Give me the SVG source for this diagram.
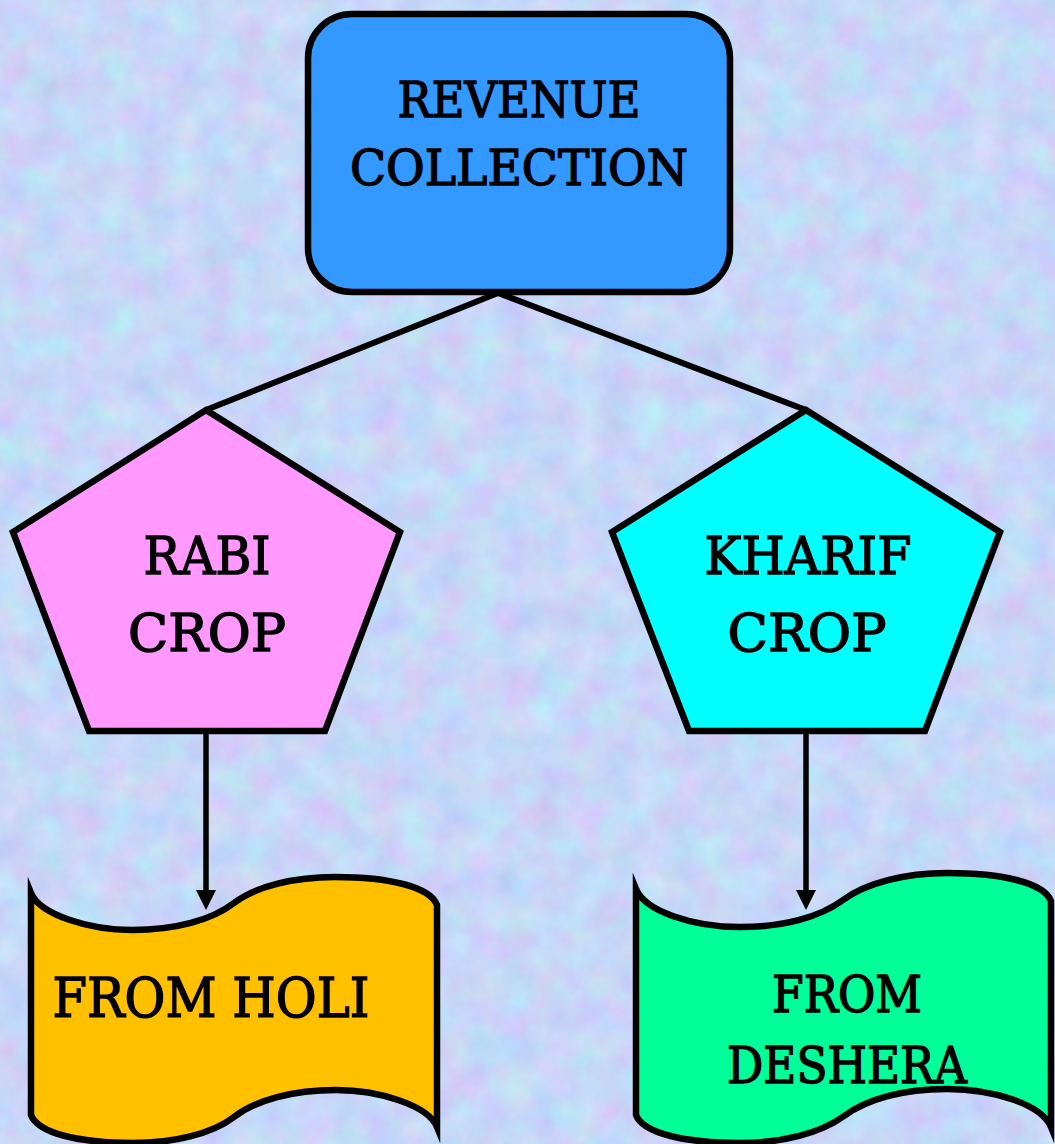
<svg xmlns="http://www.w3.org/2000/svg" width="1055" height="1144" viewBox="0 0 1055 1144">
  <style>
    .shape { stroke: #000; stroke-width: 6.5; stroke-linejoin: miter; stroke-miterlimit: 10; }
    .label { font-family: "DejaVu Serif", "Liberation Serif", serif; fill: #000; stroke: #000; stroke-width: 1.4; text-anchor: middle; }
    .link { stroke: #000; stroke-width: 6; fill: none; }
    .arrow { stroke: #000; stroke-width: 5.5; fill: none; marker-end: url(#head); }
  </style>
  <defs>
    <!-- mottled pastel paper texture -->
    <filter id="paper" x="0" y="0" width="1055" height="1144" filterUnits="userSpaceOnUse" color-interpolation-filters="sRGB">
      <feTurbulence type="fractalNoise" baseFrequency="0.03" numOctaves="4" seed="7" result="n"/>
      <feColorMatrix in="n" type="matrix" values="0.2 0 0 0 0.68  -0.08 0.17 0 0 0.8  0 0 0.08 0 0.93  0 0 0 0 1"/>
    </filter>
    <marker id="head" markerUnits="userSpaceOnUse" markerWidth="24" markerHeight="24" refX="5" refY="10" orient="auto">
      <path d="M0,0 L20,10 L0,20 Z" fill="#000"/>
    </marker>
  </defs>

  <rect x="0" y="0" width="1055" height="1144" fill="#c8dbf5"/>
  <rect x="0" y="0" width="1055" height="1144" filter="url(#paper)"/>

  <!-- connectors -->
  <g id="connectors">
    <path class="link" d="M498,293 L206,410"/>
    <path class="link" d="M498,293 L806,410"/>
    <path class="arrow" d="M206,733 L206,895"/>
    <path class="arrow" d="M806,733 L806,895"/>
  </g>

  <g id="revenue">
    <rect class="shape" x="308" y="14" width="422" height="278" rx="44" ry="44" fill="#3399ff"/>
    <text class="label" x="519" y="117" font-size="48" textLength="243" lengthAdjust="spacingAndGlyphs">REVENUE</text>
    <text class="label" x="519" y="185" font-size="48" textLength="338" lengthAdjust="spacingAndGlyphs">COLLECTION</text>
  </g>

  <g id="rabi">
    <polygon class="shape" points="206,410 400,532 325,731 89,731 13,532" fill="#ff99ff"/>
    <text class="label" x="207" y="574" font-size="53" textLength="127" lengthAdjust="spacingAndGlyphs">RABI</text>
    <text class="label" x="207" y="651" font-size="52" textLength="158" lengthAdjust="spacingAndGlyphs">CROP</text>
  </g>

  <g id="kharif">
    <polygon class="shape" points="806,410 1000,532 925,731 689,731 612,532" fill="#00ffff"/>
    <text class="label" x="808" y="574" font-size="53" textLength="207" lengthAdjust="spacingAndGlyphs">KHARIF</text>
    <text class="label" x="807" y="651" font-size="52" textLength="159" lengthAdjust="spacingAndGlyphs">CROP</text>
  </g>

  <g id="holi">
    <path class="shape" fill="#ffc000" d="M31,893 C40,915 90,930 132,930 C175,930 212,920 234,903 C256,886 295,877 335,877 C390,877 430,887 437,905 L437,1127 C428,1105 378,1090 336,1090 C293,1090 256,1100 234,1117 C212,1134 173,1143 133,1143 C78,1143 38,1133 31,1115 Z"/>
    <text class="label" x="211" y="1017" font-size="54" textLength="317" lengthAdjust="spacingAndGlyphs">FROM HOLI</text>
  </g>

  <g id="deshera">
    <path class="shape" fill="#00ff99" d="M636,889 C645,911 692,927 740,927 C784,927 820,917 843,900 C866,883 905,873 947,873 C1003,873 1044,883 1051,901 L1051,1127 C1042,1105 995,1089 947,1089 C903,1089 867,1099 844,1116 C821,1133 782,1143 740,1143 C684,1143 643,1133 636,1115 Z"/>
    <text class="label" x="847" y="1012" font-size="50" textLength="150" lengthAdjust="spacingAndGlyphs">FROM</text>
    <text class="label" x="847" y="1083" font-size="50" textLength="240" lengthAdjust="spacingAndGlyphs">DESHERA</text>
  </g>
</svg>
